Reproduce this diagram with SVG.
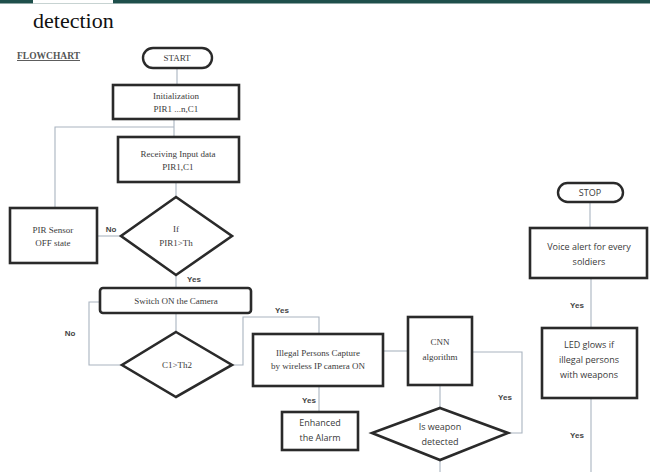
<svg xmlns="http://www.w3.org/2000/svg" width="650" height="472" viewBox="0 0 650 472">
<defs>
<style>
.box{fill:#fff;stroke:#2a2a2a;stroke-width:2.6}
.term{fill:#fff;stroke:#2a2a2a;stroke-width:2.4}
.conn{fill:none;stroke:#a9b4c0;stroke-width:1.1}
.ts{font-family:"Liberation Serif","Times New Roman",serif;font-size:9px;fill:#3a3a3a;text-anchor:middle}
.tn{font-family:"Open Sans","Liberation Sans",Arial,sans-serif;font-size:9px;fill:#3a3a3a;text-anchor:middle}
.lbl{font-family:"Liberation Sans",Arial,sans-serif;font-size:8px;font-weight:bold;fill:#444;text-anchor:middle}
.title{font-family:"Liberation Serif","Times New Roman",serif;font-size:22px;fill:#111}
.head{font-family:"Liberation Serif","Times New Roman",serif;font-size:9.5px;font-weight:bold;fill:#555;text-decoration:underline}
</style>
</defs>
<rect x="0" y="0" width="650" height="472" fill="#fff"/>
<rect x="0" y="0" width="650" height="3.5" fill="#1e4f4b"/>
<rect x="33" y="0" width="80" height="3.5" fill="#fff"/>
<text class="title" x="33" y="28">detection</text>
<text class="head" x="17" y="59">FLOWCHART</text>

<g id="connectors">
<line class="conn" x1="177" y1="68" x2="177" y2="85"/>
<line class="conn" x1="174" y1="119" x2="174" y2="137"/>
<polyline class="conn" points="55,208 55,127 174,127"/>
<line class="conn" x1="176" y1="182" x2="176" y2="197"/>
<line class="conn" x1="121" y1="236" x2="97" y2="236"/>
<line class="conn" x1="176" y1="275" x2="176" y2="288"/>
<line class="conn" x1="176" y1="313" x2="176" y2="332"/>
<polyline class="conn" points="122,365 89,365 89,302 100,302"/>
<polyline class="conn" points="232,365 243,365 243,317 319,317 319,334"/>
<line class="conn" x1="319" y1="386" x2="319" y2="412"/>
<line class="conn" x1="383" y1="351" x2="408" y2="351"/>
<line class="conn" x1="440" y1="385" x2="440" y2="408"/>
<polyline class="conn" points="472,352 522,352 522,433 508,433"/>
<line class="conn" x1="440" y1="460" x2="440" y2="472"/>
<line class="conn" x1="590" y1="202" x2="590" y2="228"/>
<line class="conn" x1="591" y1="278" x2="591" y2="328"/>
<line class="conn" x1="591" y1="398" x2="591" y2="472"/>
</g>

<g id="labels">
<text class="lbl" x="111" y="232">No</text>
<text class="lbl" x="194" y="282">Yes</text>
<text class="lbl" x="70" y="336">No</text>
<text class="lbl" x="282" y="313">Yes</text>
<text class="lbl" x="309" y="403">Yes</text>
<text class="lbl" x="505" y="400">Yes</text>
<text class="lbl" x="577" y="308">Yes</text>
<text class="lbl" x="577" y="438">Yes</text>
</g>

<g id="start">
<rect class="term" x="143" y="48" width="69" height="20" rx="10"/>
<text class="ts" x="177" y="61">START</text>
</g>
<g id="init">
<rect class="box" x="113" y="85" width="126" height="34"/>
<text class="ts" x="176" y="99">Initialization</text>
<text class="ts" x="176" y="112">PIR1 ...n,C1</text>
</g>
<g id="receiving">
<rect class="box" x="118" y="137" width="121" height="45"/>
<text class="ts" x="178" y="157">Receiving Input data</text>
<text class="ts" x="178" y="170">PIR1,C1</text>
</g>
<g id="dec1">
<polygon class="box" points="176,197 232,236 176,275 121,236"/>
<text class="ts" x="176" y="232">If</text>
<text class="ts" x="176" y="246">PIR1&gt;Th</text>
</g>
<g id="pir-off">
<rect class="box" x="10" y="208" width="87" height="55"/>
<text class="ts" x="53" y="233">PIR Sensor</text>
<text class="ts" x="53" y="246">OFF state</text>
</g>
<g id="switch">
<rect class="box" x="100" y="288" width="151" height="25" rx="3"/>
<text class="ts" x="176" y="304">Switch ON the Camera</text>
</g>
<g id="dec2">
<polygon class="box" points="176,332 232,365 176,397 122,365"/>
<text class="ts" x="177" y="368">C1&gt;Th2</text>
</g>
<g id="illegal">
<rect class="box" x="253" y="334" width="130" height="52"/>
<text class="ts" x="318" y="356">Illegal Persons Capture</text>
<text class="ts" x="318" y="369">by wireless IP camera ON</text>
</g>
<g id="enhanced">
<rect class="box" x="282" y="412" width="76" height="38"/>
<text class="tn" x="320" y="426">Enhanced</text>
<text class="tn" x="320" y="441">the Alarm</text>
</g>
<g id="cnn">
<rect class="box" x="408" y="317" width="64" height="68"/>
<text class="ts" x="440" y="345">CNN</text>
<text class="ts" x="440" y="360">algorithm</text>
</g>
<g id="dec3">
<polygon class="box" points="440,408 508,433 440,460 372,433"/>
<text class="tn" x="440" y="430">Is weapon</text>
<text class="tn" x="440" y="445">detected</text>
</g>
<g id="stop">
<rect class="term" x="558" y="183" width="65" height="19" rx="9.5"/>
<text class="tn" x="590" y="196">STOP</text>
</g>
<g id="voice">
<rect class="box" x="530" y="228" width="117" height="50"/>
<text class="tn" x="589" y="250">Voice alert for every</text>
<text class="tn" x="589" y="265">soldiers</text>
</g>
<g id="led">
<rect class="box" x="542" y="328" width="95" height="70"/>
<text class="tn" x="589" y="348">LED glows if</text>
<text class="tn" x="589" y="363">illegal persons</text>
<text class="tn" x="589" y="378">with weapons</text>
</g>
</svg>
